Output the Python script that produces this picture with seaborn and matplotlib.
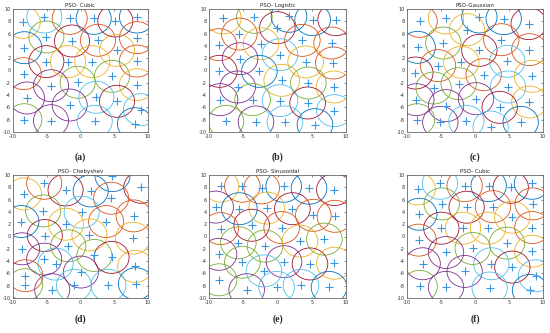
import matplotlib
matplotlib.use("Agg")
import matplotlib.pyplot as plt
from matplotlib.patches import Circle
import seaborn as sns
import pandas as pd

# ---------------- data ----------------
titles = ["PSO- Cubic", "PSO- Logistic", "PSO-Gaussian",
          "PSO- Chebyshev", "PSO- Sinusoidal", "PSO- Cubic"]
panel_labels = ["(a)", "(b)", "(c)", "(d)", "(e)", "(f)"]

RADIUS = 2.6
x_ticks = [-10, -5, 0, 5, 10]
y_ticks = [-10, -8, -6, -4, -2, 0, 2, 4, 6, 8, 10]

a_x = [-8.57, -5.36, -1.6, 1.95, 5.16, 8.37, -5.06, -1.26, 2.59, 8.37, -8.32, 5.41, -5.06, -1.85, 1.75,
       8.37, -8.42, 4.67, -0.42, -4.37, 8.37, -7.93, 2.35, -1.6, 5.41, 8.96, -8.32, -4.37, 2.1, 8.07]
a_y = [7.83, 8.7, 8.48, 8.48, 8.05, 8.7, 5.45, 4.8, 4.91, 5.34, 3.71, 3.28, 1.44, 1.44, 1.44,
       1.54, -0.51, -0.95, -1.92, -2.47, -2.3, -4.47, -4.36, -5.61, -5.01, -6.37, -8.0, -8.16, -8.27, -8.65]
a_c = list("ycobrbgroobyryyooggpypcprcgpcb")

b_x = [-7.9, -3.38, 1.68, 5.13, 8.49, -5.57, -0.02, -8.54, -2.41, 3.63, 7.9, 0.36, -5.47, 4.11, 8.15,
       -8.49, -2.65, 0.61, 4.5, -5.82, 8.25, -8.39, -3.63, 0.36, 4.4, 8.3, -7.52, -3.14, 1.09, 5.47]
b_y = [8.54, 8.65, 8.81, 8.27, 8.27, 5.93, 6.96, 4.2, 4.36, 4.9, 4.47, 2.57, 1.92, 1.38, 1.22,
       -0.14, -0.14, -1.6, -2.03, -2.68, -2.68, -4.74, -4.74, -4.9, -5.28, -6.53, -8.27, -8.37, -8.37, -8.81]
b_c = list("ygbbroroyoocpyorbygpypgcrcgpcb")

c_x = [-8.14, -4.26, 0.64, 4.22, 7.89, -1.18, -4.66, 3.87, -8.43, 0.64, 7.99, -5.44, -2.01, 4.75, -8.77,
       1.27, 8.38, -6.08, -2.4, 4.85, -8.63, 0.15, 7.99, -4.26, 3.63, -8.53, -5.1, -1.27, 2.3, 6.72]
c_y = [7.99, 8.54, 8.7, 8.43, 7.62, 6.64, 4.47, 5.01, 3.77, 3.28, 3.39, 0.79, 1.33, 1.49, -0.41,
       -0.68, -0.95, -2.84, -2.14, -2.68, -4.74, -4.58, -5.12, -5.72, -5.99, -8.0, -8.43, -8.27, -9.19, -8.43]
c_c = list("oybbrygobrooycroyggcppyprgpccb")

d_x = [-8.36, -5.38, -2.21, 1.51, 4.74, 9.01, 4.54, -5.53, 0.17, -8.76, -2.16, 3.8, 7.87, -5.29, 1.32,
       7.77, -8.66, -1.81, 2.06, -5.38, -3.7, 8.11, 0.07, -8.16, -8.21, -0.97, -4.19, 4.14, 8.21, 4.6]
d_y = [6.92, 8.65, 7.57, 7.41, 9.9, 8.0, 6.22, 4.16, 3.95, 2.43, 2.0, 2.43, 3.35, 0.16, 0.27,
       -0.27, -2.0, -1.51, -3.08, -3.68, -4.49, -4.86, -5.78, -6.38, -7.84, -7.95, -8.65, -7.95, -7.68, -3.4]
d_c = list("yorbbrogcbyooryypggpcypogcpcbr")

e_x = [-8.25, -5.13, -2.31, 0.9, 4.6, 8.3, -9.03, -5.57, -1.58, 2.17, 5.23, 8.39, -3.77, -8.3, 0.61,
       -5.72, -1.82, 3.28, 6.84, -8.54, -5.13, 0.95, 4.74, 8.3, -1.97, -8.54, -4.5, -0.12, 3.43, 7.52]
e_y = [8.17, 8.17, 7.9, 8.17, 7.85, 7.63, 4.78, 4.52, 4.62, 4.52, 3.44, 3.28, 1.83, 1.29, 1.45,
       -1.02, -1.56, -0.75, -0.43, -2.9, -4.19, -4.09, -4.46, -4.35, -5.59, -7.04, -8.66, -8.28, -7.96, -8.28]
e_c = list("yoobbrpbyroorooggygpgprycgpccb")

f_x = [-8.43, -5.15, -1.52, 2.01, 5.25, 8.38, -4.9, -1.23, 2.65, 8.48, -8.19, 5.49, -4.95, -1.76, 1.91,
       8.43, -8.28, 4.7, -0.34, -4.26, 8.43, -7.7, 2.4, -1.52, 5.49, 8.97, -8.14, -4.26, 2.16, 8.09]
f_y = [7.73, 8.65, 8.27, 8.27, 8.0, 8.65, 5.3, 4.76, 4.86, 5.3, 3.62, 3.14, 1.35, 1.35, 1.35,
       1.46, -0.59, -1.08, -1.95, -2.6, -2.38, -4.43, -4.43, -5.68, -4.97, -6.38, -8.1, -8.27, -8.38, -8.76]
f_c = list("ycobrbgroobyryyooggpypcprcgpcb")

panels = [(a_x, a_y, a_c), (b_x, b_y, b_c), (c_x, c_y, c_c),
          (d_x, d_y, d_c), (e_x, e_y, e_c), (f_x, f_y, f_c)]

palette = {"b": "#0072BD", "o": "#D95319", "y": "#EDB120", "p": "#7E2F8E",
           "g": "#77AC30", "c": "#4DBEEE", "r": "#A2142F"}
plus_color = "#3A97DF"

# ---------------- layout ----------------
sns.set_style("white")
plt.rcParams["font.family"] = ["DejaVu Sans"]

fig = plt.figure(figsize=(5.5, 3.33), dpi=100)
fig.patch.set_facecolor("white")

W, H = 550.0, 333.0
col_px = [(13, 148), (209, 346), (407, 543)]
row_px = [(9, 132), (175, 298)]
label_y_px = [157, 319]

for i, (xs, ys, cs) in enumerate(panels):
    r, c = divmod(i, 3)
    x0, x1 = col_px[c]
    y0, y1 = row_px[r]
    ax = fig.add_axes([x0 / W, 1 - y1 / H, (x1 - x0) / W, (y1 - y0) / H])
    df = pd.DataFrame({"x": xs, "y": ys, "c": cs})
    for _, row in df.iterrows():
        ax.add_patch(Circle((row.x, row.y), RADIUS, fill=False,
                            ec=palette[row.c], lw=0.6, clip_on=True, zorder=1))
    sns.scatterplot(data=df, x="x", y="y", marker="+", color=plus_color,
                    s=28, linewidth=0.8, ax=ax, zorder=3)
    ax.set_xlim(-10, 10)
    ax.set_ylim(-10, 10)
    ax.set_xticks(x_ticks)
    ax.set_yticks(y_ticks)
    ax.set_xticklabels([str(t) for t in x_ticks])
    ax.set_yticklabels([str(t) for t in y_ticks])
    ax.set_xlabel("")
    ax.set_ylabel("")
    ax.tick_params(direction="in", length=1.5, width=0.4, labelsize=3.5,
                   pad=1.5, colors="#333333", top=True, right=True)
    for sp in ax.spines.values():
        sp.set_color("#666666")
        sp.set_linewidth(0.6)
    ax.set_title(titles[i], fontsize=4, pad=1.2, color="#222222")
    fig.text(((x0 + x1) / 2) / W, 1 - label_y_px[r] / H, panel_labels[i],
             ha="center", va="center", fontsize=7, fontweight="bold",
             family="Liberation Serif")

fig.savefig("out.png", dpi=100, facecolor="white")
